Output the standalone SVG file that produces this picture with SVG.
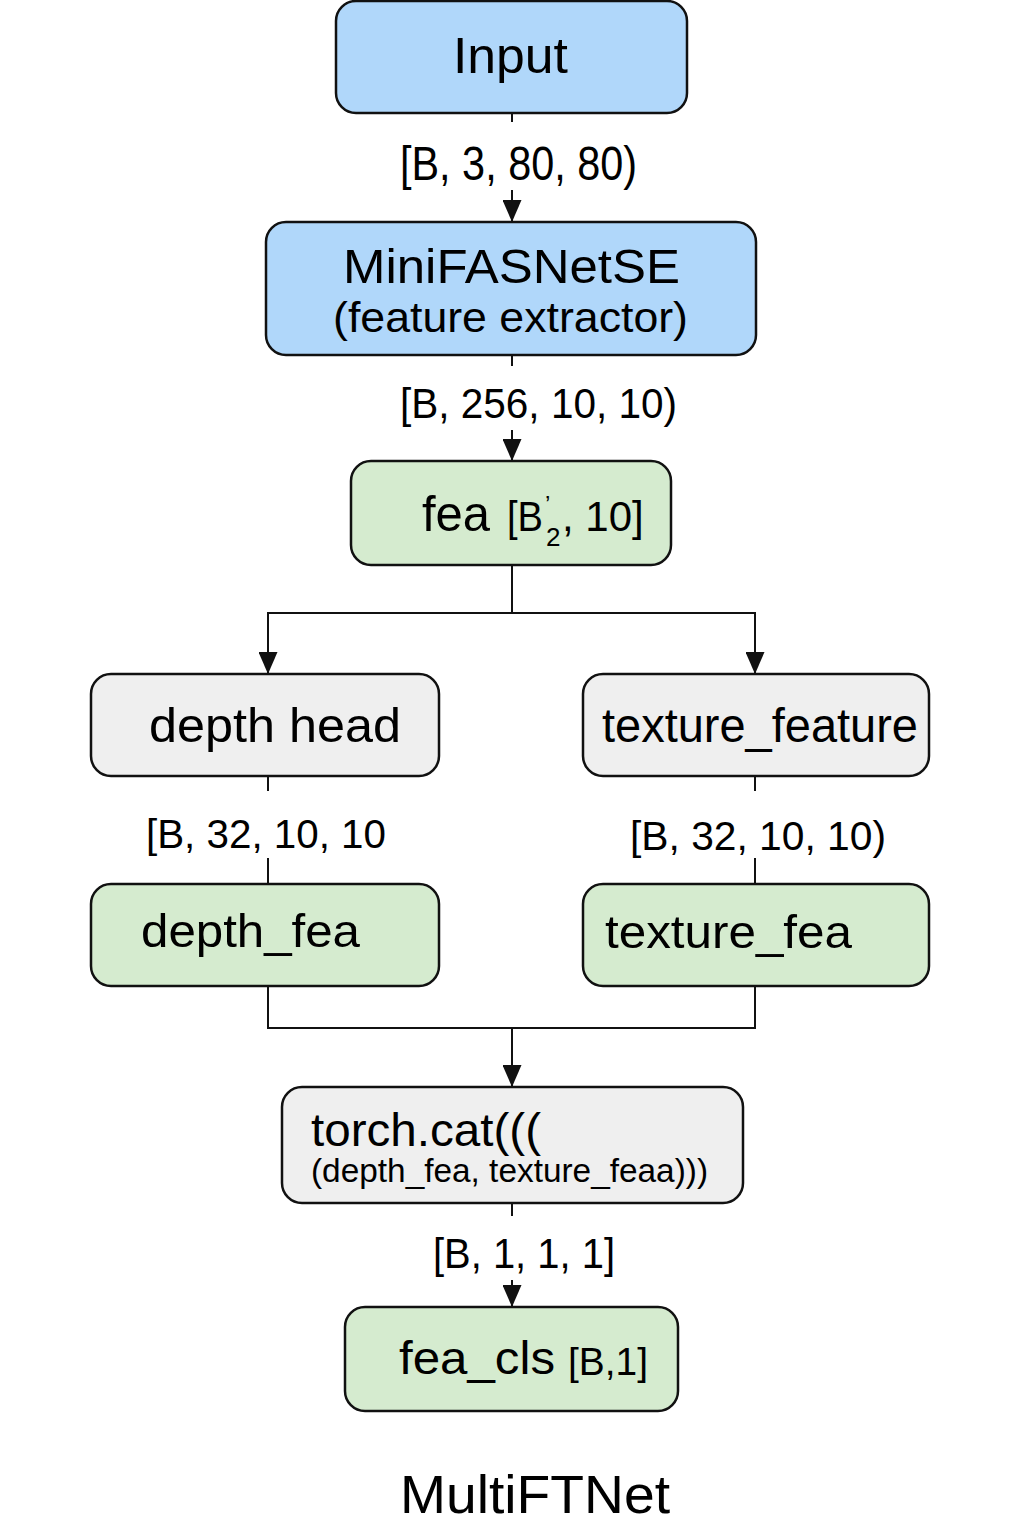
<svg xmlns="http://www.w3.org/2000/svg" width="1024" height="1536" viewBox="0 0 1024 1536">
<style>
.box{stroke:#111;stroke-width:2.5}
.blue{fill:#b0d7fa}
.green{fill:#d5ebcf}
.gray{fill:#efefef}
text{font-family:"Liberation Sans",Arial,Helvetica,sans-serif;fill:#000}
.ln{stroke:#111;stroke-width:2;fill:none}
</style>
<defs>
<marker id="arr" viewBox="0 0 22 19" refX="22" refY="9.5" markerWidth="22" markerHeight="19" markerUnits="userSpaceOnUse" orient="auto">
<path d="M0,0 L22,9.5 L0,19 z" fill="#111"/>
</marker>
</defs>
<rect width="1024" height="1536" fill="#fff"/>
<g id="connectors">
<line class="ln" x1="512" y1="113" x2="512" y2="122"/>
<line class="ln" x1="512" y1="190" x2="512" y2="222" marker-end="url(#arr)"/>
<line class="ln" x1="512" y1="355" x2="512" y2="366"/>
<line class="ln" x1="512" y1="430" x2="512" y2="461" marker-end="url(#arr)"/>
<polyline class="ln" points="512,565 512,613"/>
<polyline class="ln" points="268,674 268,613 755,613 755,674"/>
<line class="ln" x1="268" y1="640" x2="268" y2="674" marker-end="url(#arr)"/>
<line class="ln" x1="755" y1="640" x2="755" y2="674" marker-end="url(#arr)"/>
<line class="ln" x1="268" y1="776" x2="268" y2="791"/>
<line class="ln" x1="268" y1="858" x2="268" y2="884"/>
<line class="ln" x1="755" y1="776" x2="755" y2="791"/>
<line class="ln" x1="755" y1="858" x2="755" y2="884"/>
<polyline class="ln" points="268,986 268,1028 755,1028 755,986"/>
<line class="ln" x1="512" y1="1028" x2="512" y2="1087" marker-end="url(#arr)"/>
<line class="ln" x1="512" y1="1203" x2="512" y2="1216"/>
<line class="ln" x1="512" y1="1280" x2="512" y2="1307" marker-end="url(#arr)"/>
<text x="400" y="180" font-size="48" textLength="237" lengthAdjust="spacingAndGlyphs">[B, 3, 80, 80)</text>
<text x="400" y="418" font-size="43" textLength="277" lengthAdjust="spacingAndGlyphs">[B, 256, 10, 10)</text>
<text x="146" y="848" font-size="40" textLength="240" lengthAdjust="spacingAndGlyphs">[B, 32, 10, 10</text>
<text x="630" y="850" font-size="40" textLength="256" lengthAdjust="spacingAndGlyphs">[B, 32, 10, 10)</text>
<text x="433" y="1268" font-size="42" textLength="182" lengthAdjust="spacingAndGlyphs">[B, 1, 1, 1]</text>
</g>
<g id="input">
<rect class="box blue" x="336" y="1" width="351" height="112" rx="20"/>
<text x="453" y="73" font-size="50" textLength="115" lengthAdjust="spacingAndGlyphs">Input</text>
</g>
<g id="minifasnet">
<rect class="box blue" x="266" y="222" width="490" height="133" rx="20"/>
<text x="343" y="283" font-size="49" textLength="337" lengthAdjust="spacingAndGlyphs">MiniFASNetSE</text>
<text x="333" y="332" font-size="43" textLength="355" lengthAdjust="spacingAndGlyphs">(feature extractor)</text>
</g>
<g id="fea">
<rect class="box green" x="351" y="461" width="320" height="104" rx="20"/>
<text y="531"><tspan x="422" font-size="50" textLength="68" lengthAdjust="spacingAndGlyphs">fea</tspan><tspan x="507" font-size="43" textLength="36" lengthAdjust="spacingAndGlyphs">[B</tspan><tspan x="545" y="513" font-size="24">’</tspan><tspan x="546" y="546" font-size="26">2</tspan><tspan x="562" y="531" font-size="42">, 10]</tspan></text>
</g>
<g id="depth_head">
<rect class="box gray" x="91" y="674" width="348" height="102" rx="20"/>
<text x="149" y="742" font-size="49" textLength="252" lengthAdjust="spacingAndGlyphs">depth head</text>
</g>
<g id="texture_feature">
<rect class="box gray" x="583" y="674" width="346" height="102" rx="20"/>
<text x="602" y="742" font-size="49" textLength="316" lengthAdjust="spacingAndGlyphs">texture_feature</text>
</g>
<g id="depth_fea">
<rect class="box green" x="91" y="884" width="348" height="102" rx="20"/>
<text x="141" y="947" font-size="47" textLength="219" lengthAdjust="spacingAndGlyphs">depth_fea</text>
</g>
<g id="texture_fea">
<rect class="box green" x="583" y="884" width="346" height="102" rx="20"/>
<text x="605" y="948" font-size="47" textLength="247" lengthAdjust="spacingAndGlyphs">texture_fea</text>
</g>
<g id="torch_cat">
<rect class="box gray" x="282" y="1087" width="461" height="116" rx="20"/>
<text x="311" y="1146" font-size="47" textLength="230" lengthAdjust="spacingAndGlyphs">torch.cat(((</text>
<text x="311" y="1182" font-size="34" textLength="397" lengthAdjust="spacingAndGlyphs">(depth_fea, texture_feaa)))</text>
</g>
<g id="fea_cls">
<rect class="box green" x="345" y="1307" width="333" height="104" rx="20"/>
<text x="399" y="1374" font-size="46" textLength="156" lengthAdjust="spacingAndGlyphs">fea_cls</text>
<text x="568" y="1375" font-size="39" textLength="80" lengthAdjust="spacingAndGlyphs">[B,1]</text>
</g>
<g id="title">
<text x="400" y="1513" font-size="53" textLength="270" lengthAdjust="spacingAndGlyphs">MultiFTNet</text>
</g>
</svg>
